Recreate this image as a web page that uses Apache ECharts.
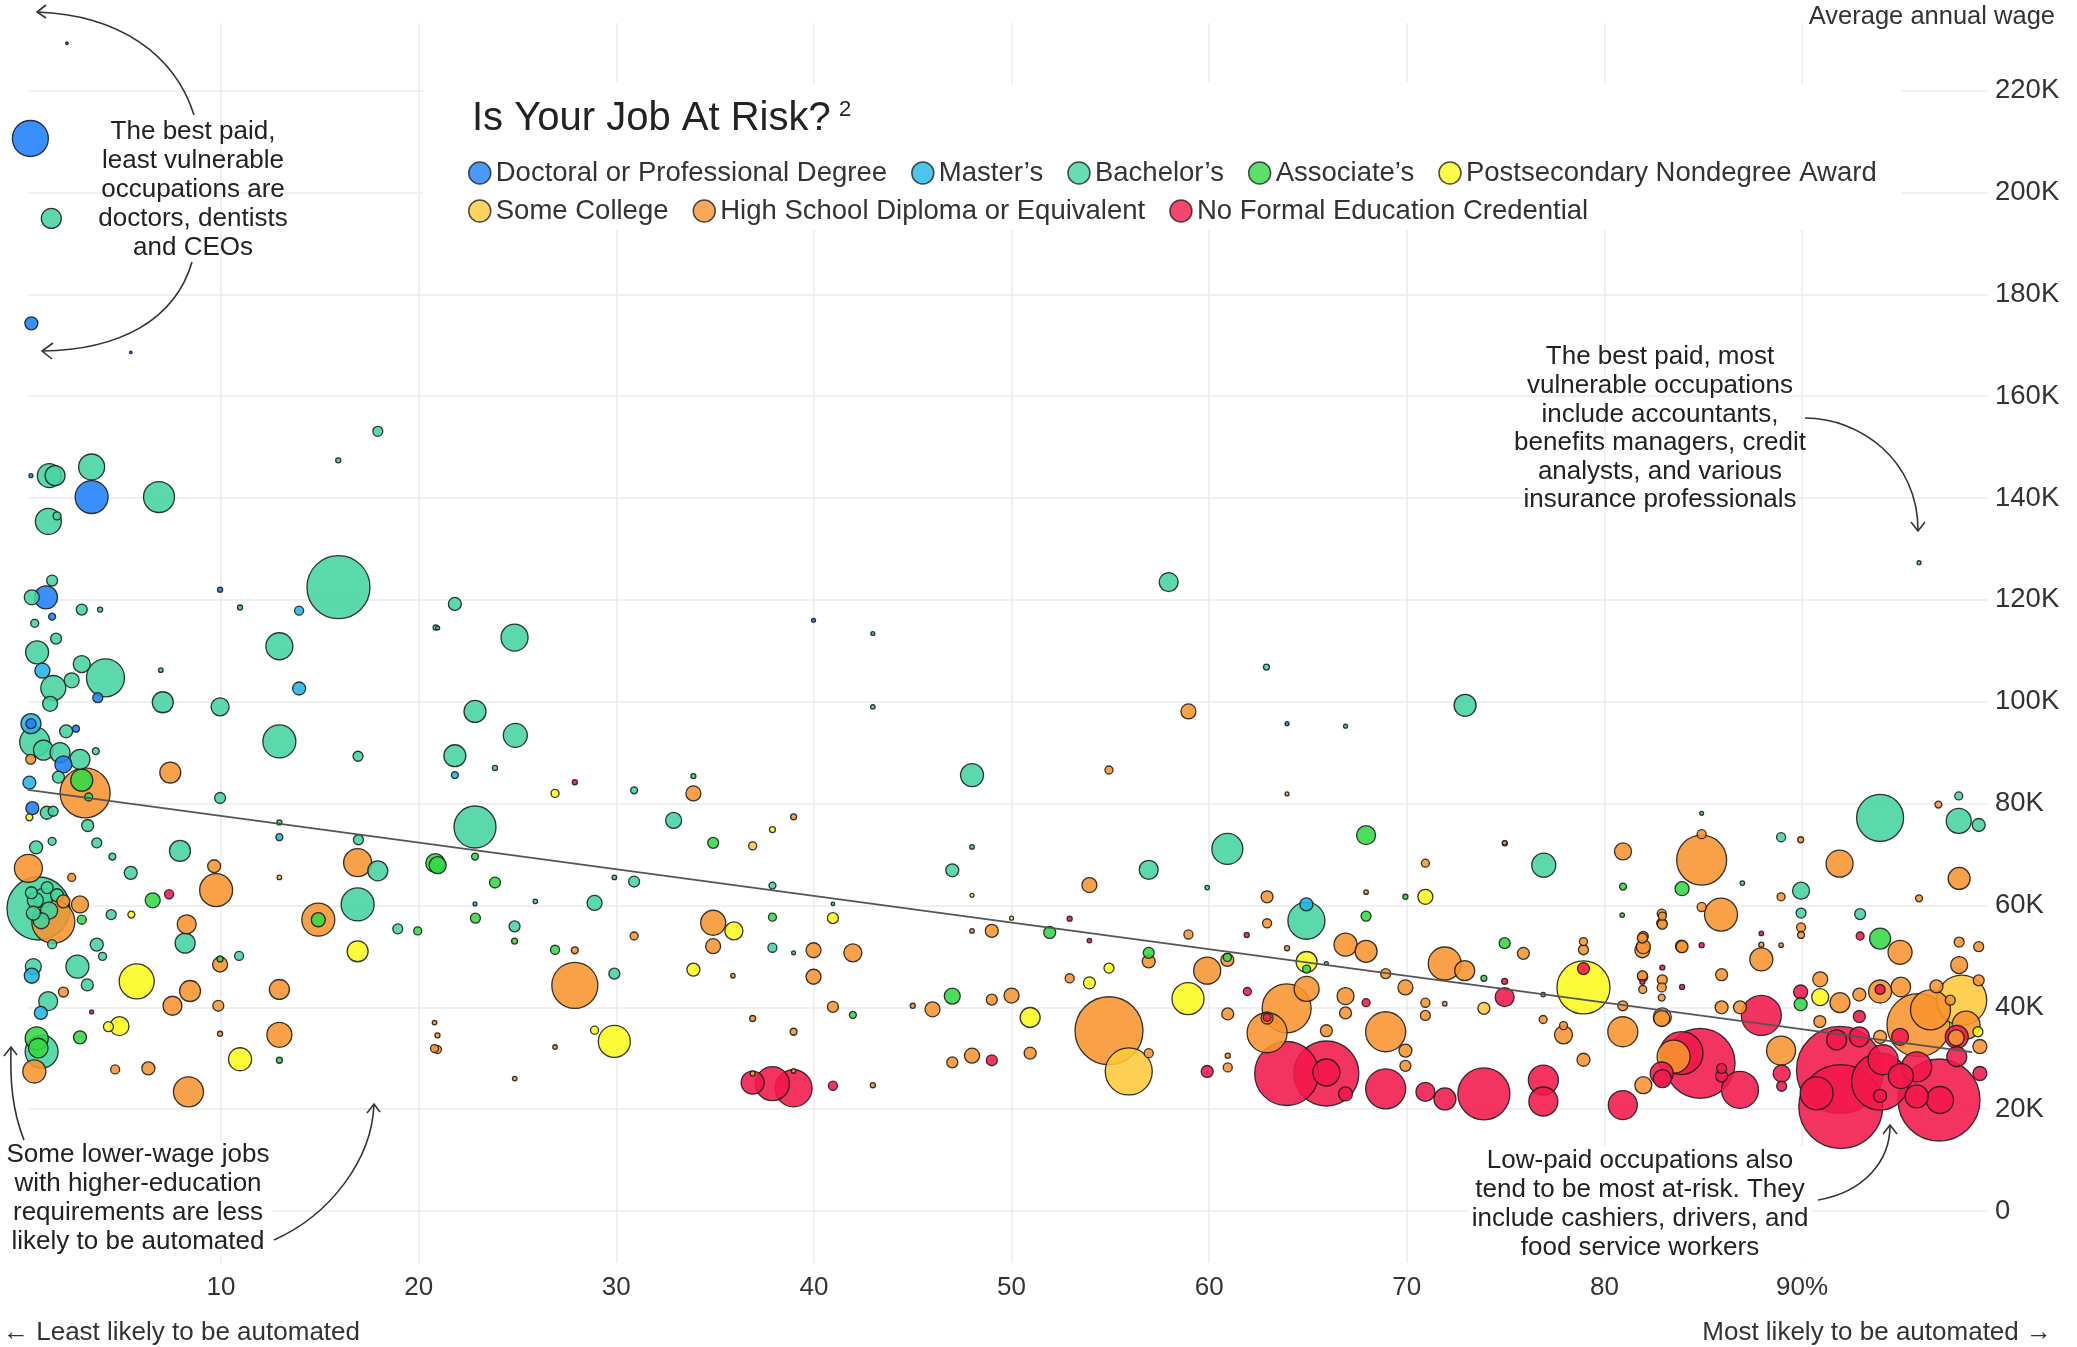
<!DOCTYPE html>
<html><head><meta charset="utf-8">
<script src="https://cdn.jsdelivr.net/npm/echarts@6/dist/echarts.min.js"></script>
<style>html,body{margin:0;padding:0;background:#fff}#c{width:2077px;height:1347px}</style>
</head><body><div id="c"></div>
<script>
// ---------- DATA ([automation probability %, average annual wage in K$, employment in thousands]) ----------
const categories = ['Doctoral or Professional Degree','Master\u2019s','Bachelor\u2019s','Associate\u2019s','Postsecondary Nondegree Award','Some College','High School Diploma or Equivalent','No Formal Education Credential'];
const colors = ['#1e7ffa','#22b4e6','#44d49e','#33d844','#fbfb1e','#fdc83a','#f7942f','#f3184a'];

const doctoral = [[0.35,210.6,506],[0.4,174.3,66],[0.28,233.3,2],[2.2,229.3,2],[5.43,168.6,2],[0.38,144.4,6],[3.45,140.2,425],[1.14,120.5,207],[9.95,122,10],[1.45,116.7,19],[3.76,100.8,39],[2.02,87.7,113],[2.66,94.7,19],[0.38,95.7,39],[0.45,79.1,66],[39.98,116,6],[63.94,95.7,6]];

const masters = [[13.95,117.9,32],[0.96,106.1,88],[13.95,102.6,66],[0.38,95.7,156],[0.3,84.1,66],[0.42,46.2,88],[0.88,38.9,66],[21.83,85.6,19],[22.85,60.3,6],[12.95,73.4,19],[42.98,113.4,6],[40.96,60.3,5],[64.92,60.2,66]];

const bachelors = [[1.41,194.9,156],[1.31,144.4,225],[1.6,144.4,156],[3.45,146.1,264],[6.86,140.2,375],[1.26,135.4,264],[1.7,136.5,25],[17.93,153.1,39],[15.93,147.4,10],
[1.45,123.8,47],[0.42,120.5,88],[2.95,118.1,47],[3.88,118.1,10],[0.57,115.4,25],[1.65,112.4,47],[0.69,109.7,207],[12.95,110.9,285],[15.94,122.5,1550],[20.96,114.5,6],[6.95,106.2,8],
[1.51,102.7,244],[2.44,104.2,88],[2.95,107.4,113],[4.15,104.7,564],[7.05,99.9,172],[9.95,99,127],[1.35,99.6,88],[12.95,92.2,425],[2.16,94.2,66],[0.57,92.1,352],[1.01,90.5,156],[1.85,90,156],[2.86,88.7,156],[3.66,90.3,19],[1.77,85.2,56],[16.93,89.3,39],[9.95,81.1,47],[1.18,78.2,66],[1.5,78.5,39],[3.25,75.7,56],[16.95,72.9,39],[0.64,71.4,66],[1.45,72.6,25],[3.71,72.3,39],[4.5,69.6,19],[7.92,70.7,172],[5.43,66.4,66],[17.93,66.8,156],
[0.76,59.4,1550],[0.6,61,100],[1.0,61.5,141],[1.3,59,113],[0.9,57,100],[0.5,58.5,77],[1.7,62,66],[1.2,63.5,56],[0.4,62.5,56],
[4.44,58.2,39],[8.18,52.6,156],[16.91,60.2,425],[18.94,55.4,39],[3.71,52.3,66],[1.45,52.4,32],[2.73,48,207],[3.23,44.4,56],[0.5,48,100],[1.25,41.2,141],[0.92,31.3,425],[10.91,50.1,32],[4.0,50,25],
[21.83,119.2,66],[20.86,114.6,10],[24.85,112.6,285],[42.98,99,8],[22.85,98.1,189],[24.89,93.4,225],[21.83,89.4,189],[23.86,87,10],[30.9,82.6,19],[48,85.6,207],[32.9,76.7,100],[22.85,75.4,689],[48,71.5,8],[29.9,65.5,8],[30.9,64.7,47],[37.9,63.9,19],[47,66.9,66],[25.9,60.8,8],[28.9,60.5,88],[24.85,55.9,47],[37.9,51.7,32],[38.97,50.7,6],[29.9,46.6,47],
[57.95,123.5,141],[62.9,106.8,14],[72.95,99.3,189],[66.9,95.2,6],[60.92,71.1,375],[56.94,67,141],[59.9,63.5,8],[64.92,57,535],[65.93,48.6,6],
[95.92,127.3,6],[93.95,77.2,863],[97.93,81.5,25],[97.93,76.6,244],[98.94,75.8,66],[76.93,67.9,225],[89.95,62.9,113],[88.94,73.4,32],[89.95,58.5,39],[92.94,58.3,47],[86.98,64.4,8]];

const associates = [[20.96,67.9,113],[6.54,61,88],[19.95,55,25],[0.67,33.9,207],[0.75,32,150],[2.86,34.1,66],[12.95,29.6,14],[12.95,76.3,10],[10.96,118.5,10],[2.95,57.2,32],[9.95,49.5,14],[14.92,57.2,77],[2.95,84.6,189],[3.3,81.3,25],
[33.9,85.4,10],[20.84,68.3,141],[22.85,69.6,19],[23.86,64.5,47],[34.9,72.3,47],[22.87,57.5,39],[24.85,53,14],[26.9,51.3,32],[37.9,57.7,25],[41.97,38.5,19],[47,42.2,100],
[51.93,54.7,56],[67.94,73.8,141],[67.94,57.9,39],[74.95,52.6,47],[69.93,61.7,10],[56.94,50.7,47],[64.93,47.5,25],[73.9,45.7,14],[60.92,49.8,25],
[83.93,63.3,77],[80.94,63.7,19],[84.92,78.1,6],[93.95,53.5,172],[89.93,40.6,66],[80.9,58.1,8]];

const postsecondary = [[5.73,45.1,479],[16.91,51,172],[4.86,36.3,141],[4.3,36.2,39],[10.96,29.8,207],[5.46,58.2,19],[0.3,77.3,19],
[26.9,82,25],[37.9,74.9,14],[40.96,57.5,47],[35.95,55,127],[33.9,47.4,66],[28.9,35.5,25],[29.9,33.3,400],[48,62,6],[50,57.5,6],
[64.93,48.9,172],[70.94,61.7,88],[53.94,44.8,56],[54.93,47.7,39],[50.94,38,156],[58.93,41.7,400],
[78.94,43.9,1097],[90.92,42,113],[98.9,35.2,39]];

const someCollege = [[12.95,65.5,8],[36.9,71.7,25],[55.93,27.4,863],[73.9,39.8,56],[98.08,41.4,977]];

const highSchool = [[3.12,82.1,977],[7.43,86.1,172],[0.37,88.7,39],[0.25,67.3,306],[9.65,67.7,66],[9.75,63,425],[16.91,68.4,306],[1.51,56.8,722],[2.86,60.2,113],[2.02,60.8,66],[2.44,65.5,25],[8.26,56.3,141],[14.92,57.2,425],[8.43,43.2,172],[7.54,40.3,141],[9.86,40.3,47],[9.95,48.4,88],[12.95,43.5,156],[2.02,43,39],[12.95,34.6,244],[0.55,27.4,207],[4.64,27.8,32],[6.32,28,66],[8.35,23.4,352],[20.95,31.7,25],[20.95,34.5,10],[9.95,34.8,10],
[33.9,82,88],[38.97,77.4,14],[34.9,56.6,244],[30.9,54,25],[27.9,51.2,19],[34.9,52,88],[39.98,51.2,88],[41.97,50.7,127],[49,55,66],[48,55,8],[27.9,44.3,827],[35.9,46.2,8],[39.98,46,88],[40.96,40.1,47],[45,40.3,10],[46,39.6,88],[49,41.5,47],[50,42.3,88],[20.8,37,8],[20.8,31.9,25],[26.9,32.2,8],[24.86,26,8],[36.9,37.8,14],[38.97,35.2,19],[36.9,27,10],[38.97,27.5,8],[42.98,24.7,10],[47,29.2,47],[48,30.5,88],
[58.95,98.1,88],[54.93,86.6,25],[63.94,81.9,6],[74.95,72.3,8],[53.94,64,88],[62.93,61.7,56],[70.94,68.3,25],[67.94,62.6,8],[62.93,56.5,32],[58.95,54.3,32],[66.9,52.3,207],[67.94,51,189],[63.94,51.6,10],[56.94,49,66],[60.92,49.3,66],[59.9,47.2,285],[71.92,48.6,425],[72.93,47.2,156],[68.93,46.6,39],[52.94,45.7,32],[54.93,35.4,1806],[50.94,31,56],[56.94,31,32],[60.94,38.7,56],[60.94,28.2,32],[60.94,30.5,10],[62.93,37.9,56],[63.92,39.8,938],[62.93,35,625],[64.93,43.6,244],[65.93,35.4,56],[66.9,42.2,113],[66.9,38.9,56],[68.93,35.2,625],[69.93,43.9,88],[69.93,31.5,66],[69.93,28.5,47],[70.94,40.9,32],[70.94,38.4,39],[71.92,40.7,8],
[80.93,35.2,352],[80.93,40.3,39],[77.93,34.6,127],[77.93,36.4,25],[76.9,37.6,25],[76.9,42.5,8],[75.9,50.6,56],[78.94,51.3,39],[78.94,52.9,25],[78.94,29.7,66],[81.97,24.7,113],[81.97,51.9,77],[81.97,53.9,39],[81.94,46,39],[81.94,43.5,25],[82.9,58.4,32],[82.9,56.5,39],[82.9,37.8,100],[82.9,43.9,32],[83.9,52,56],[83.5,30.3,425],[82.9,41.9,19],
[96.9,79.8,19],[97.95,65.3,189],[95.92,61.4,19],[91.9,68.2,285],[84.92,68.9,977],[84.92,74,32],[80.94,70.6,113],[74.96,72.2,10],[85.9,58.2,425],[84.92,59.7,32],[82.93,56.3,39],[82.93,57.9,25],[88.94,61.7,25],[89.93,72.9,14],[89.95,55.7,32],[89.95,54.2,19],[94.96,50.8,225],[97.95,52.8,39],[98.94,51.9,39],[97.95,48.3,113],[98.94,45.3,47],[87.94,49.4,207],[90.92,45.5,88],[91.92,40.9,156],[85.93,46.4,56],[85.93,40,66],[86.86,40,66],[83.93,51.9,56],[81.92,51.2,88],[81.92,53.6,39],[81.92,46.2,39],[82.93,38.1,127],[82.93,45.4,39],[88.94,31.5,329],[88.94,52.2,8],[87.94,52.3,10],[90.9,37.2,56],[93.95,34.2,66],[95.89,36.5,1550],[96.5,39.5,625],[96.8,44.1,66],[97.8,34,100],[99,32.3,77],[98.3,36.5,306],[95.0,44,150],[97.5,41.4,39],[92.9,42.5,66],[93.95,43.1,207]];

const noFormal = [[7.37,62.2,32],[27.9,84.2,10],[3.45,39.1,6],[36.9,25.2,207],[37.9,25,452],[38.97,24.1,535],[40.96,24.6,32],[49,29.6,47],
[52.94,57.4,10],[53.94,53.1,8],[61.9,54.2,10],[61.93,43.1,25],[67.94,40.9,25],[74.95,45.1,14],[59.9,27.4,56],[63.92,27,1600],[65.93,27,1650],[65.93,27.2,285],[66.9,23,77],[68.93,24,625],[70.94,23.4,141],[71.93,22,189],[73.9,23,1056],[74.95,42,141],[62.93,38,25],
[78.94,47.6,56],[76.91,25.7,352],[76.91,21.5,329],[80.93,20.8,329],[84.84,29,1914],[83.9,31,722],[82.9,27,207],[82.93,26,127],[86.86,23.8,535],[85.93,28,39],[85.93,26.5,56],[87.94,38.4,625],[88.97,27,113],[88.97,24.5,39],[81.92,45,10],[82.93,47.8,10],[83.93,44,10],[84.92,52.2,10],[89.93,43,77],[87.94,54.5,8],[92.94,54,25],
[91.92,27.7,2957],[91.96,20.5,2756],[96.93,21.8,2627],[93.95,25.4,1269],[91.75,33.6,156],[92.9,34.2,156],[92.9,38.2,56],[94.96,34.2,113],[95.8,28.3,352],[95.8,22.5,207],[96.98,21.8,285],[97.83,34.2,207],[97.83,30.3,156],[94.1,29.7,352],[95,26.5,244],[93.95,22.6,66],[90.74,23.1,425],[99,27,77],[93.95,43.5,39]];

const trendLine = [[0.23,82.7],[98.6,31.2]];
const xTickValues = [10,20,30,40,50,60,70,80,90];
const yTickValues = [0,20,40,60,80,100,120,140,160,180,200,220];

// ---------- CHART ----------
const FONT = '"Liberation Sans", Arial, "DejaVu Sans", sans-serif';
const groups = [doctoral, masters, bachelors, associates, postsecondary, someCollege, highSchool, noFormal];
const points = [];
groups.forEach((g, i) => g.forEach(v => points.push({ value: v, itemStyle: { color: colors[i] } })));
points.sort((a, b) => b.value[2] - a.value[2]);

const legendSeries = categories.map((c, i) => ({
  type: 'scatter', name: c, data: [],
  itemStyle: { color: colors[i], borderColor: '#222', borderWidth: 1.5 }
}));

const legendCommon = {
  left: 468, itemWidth: 22, itemHeight: 22, itemGap: 24, icon: 'circle', padding: 0,
  selectedMode: false,
  textStyle: { fontSize: 27.5, color: '#333', fontFamily: FONT },
  itemStyle: { borderColor: '#222', borderWidth: 1.5 }
};

function txt(x, y, text, opts) {
  return Object.assign({ type: 'text', x: x, y: y, z: 10,
    style: Object.assign({ text: text, font: '26px ' + FONT, fill: '#222',
      align: 'center', textAlign: 'center', verticalAlign: 'top', textVerticalAlign: 'top', lineHeight: 29 }, opts || {}) });
}
function curve(x1, y1, c1x, c1y, c2x, c2y, x2, y2) {
  return { type: 'bezierCurve', z: 10, shape: { x1: x1, y1: y1, cpx1: c1x, cpy1: c1y, cpx2: c2x, cpy2: c2y, x2: x2, y2: y2 },
    style: { stroke: '#333', lineWidth: 1.6, fill: null } };
}
function head(pts) {
  return { type: 'polyline', z: 10, shape: { points: pts }, style: { stroke: '#333', lineWidth: 1.6, fill: null } };
}

const chart = echarts.init(document.getElementById('c'), null, { renderer: 'canvas' });
chart.setOption({
  animation: false,
  backgroundColor: '#fff',
  grid: { left: 28, right: 89, top: 23, bottom: 84 },
  xAxis: {
    type: 'value', min: 0.23, max: 99.41,
    axisLine: { show: false },
    axisTick: { show: false, customValues: xTickValues },
    axisLabel: { customValues: xTickValues, fontSize: 26, color: '#333', fontFamily: FONT, margin: 12,
      formatter: v => (v === 90 ? '90%' : String(v)) },
    splitLine: { show: true, lineStyle: { color: '#ebebeb', width: 1.5 } }
  },
  yAxis: {
    type: 'value', position: 'right', min: -10.21, max: 233.28,
    axisLine: { show: false },
    axisTick: { show: false, customValues: yTickValues },
    axisLabel: { customValues: yTickValues, fontSize: 27.5, color: '#333', fontFamily: FONT, align: 'left', margin: 7,
      formatter: v => (v === 0 ? '0' : v + 'K') },
    splitLine: { show: true, lineStyle: { color: '#ebebeb', width: 1.5 } }
  },
  legend: [
    Object.assign({ data: categories.slice(0, 5), top: 159 }, legendCommon),
    Object.assign({ data: categories.slice(5), top: 197 }, legendCommon)
  ],
  series: legendSeries.concat([
    {
      type: 'scatter', name: 'occupations', data: points, z: 2,
      symbolSize: v => Math.max(2.5, 1.6 * Math.sqrt(v[2])),
      itemStyle: { borderColor: '#1a1a1a', borderWidth: 1.3, opacity: 0.88 },
      emphasis: { disabled: true }, silent: true
    },
    {
      type: 'line', name: 'trend', data: trendLine, symbol: 'none', z: 5, silent: true,
      lineStyle: { color: '#555', width: 1.8 }
    }
  ]),
  graphic: [
    { type: 'rect', z: 1, shape: { x: 423, y: 83, width: 1479, height: 147 }, style: { fill: '#fff' } },
    txt(472, 119, 'Is Your Job At Risk?', { font: '40px ' + FONT, align: 'left', textAlign: 'left', verticalAlign: 'middle', textVerticalAlign: 'middle' }),
    txt(839, 110, '2', { font: '22px ' + FONT, align: 'left', textAlign: 'left', verticalAlign: 'middle', textVerticalAlign: 'middle' }),
    txt(2055, 17, 'Average annual wage', { font: '25.5px ' + FONT, fill: '#333', align: 'right', textAlign: 'right', verticalAlign: 'middle', textVerticalAlign: 'middle' }),
    txt(193, 117, 'The best paid,\nleast vulnerable\noccupations are\ndoctors, dentists\nand CEOs'),
    txt(1660, 343, 'The best paid, most\nvulnerable occupations\ninclude accountants,\nbenefits managers, credit\nanalysts, and various\ninsurance professionals', { lineHeight: 28.6 }),
    txt(138, 1140, 'Some lower-wage jobs\nwith higher-education\nrequirements are less\nlikely to be automated', { backgroundColor: '#fff', padding: [0, 3] }),
    txt(1640, 1146, 'Low-paid occupations also\ntend to be most at-risk. They\ninclude cashiers, drivers, and\nfood service workers', { backgroundColor: '#fff', padding: [0, 3] }),
    txt(3, 1333, '\u2190 Least likely to be automated', { fill: '#333', align: 'left', textAlign: 'left', verticalAlign: 'middle', textVerticalAlign: 'middle' }),
    txt(2052, 1333, 'Most likely to be automated \u2192', { fill: '#333', align: 'right', textAlign: 'right', verticalAlign: 'middle', textVerticalAlign: 'middle' }),
    curve(194, 115, 175, 55, 120, 15, 37, 12), head([[46, 5], [37, 12], [46, 18]]),
    curve(192, 262, 175, 320, 120, 350, 42, 351), head([[53, 343], [42, 351], [52, 359]]),
    curve(1805, 418, 1860, 418, 1918, 460, 1918, 530), head([[1911, 522], [1918, 531], [1925, 522]]),
    curve(24, 1140, 12, 1110, 10, 1080, 11, 1047), head([[4, 1056], [11, 1047], [17, 1055]]),
    curve(274, 1240, 330, 1215, 372, 1160, 374, 1104), head([[367, 1113], [374, 1104], [380, 1112]]),
    curve(1818, 1200, 1865, 1192, 1890, 1160, 1890, 1126), head([[1883, 1134], [1890, 1125], [1897, 1134]])
  ]
});
</script>
</body></html>
